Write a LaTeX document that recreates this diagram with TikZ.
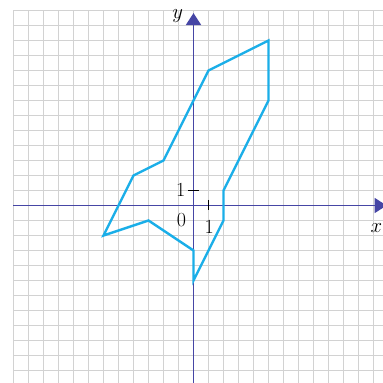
\documentclass[tikz,border=0pt]{standalone}
\usetikzlibrary{arrows.meta}
\definecolor{gridgray}{HTML}{D2D2D2}
\definecolor{axisblue}{HTML}{4646A5}
\definecolor{polycyan}{HTML}{1AAEE8}
\begin{document}
\begin{tikzpicture}[x=15pt,y=15pt,
  gridline/.style={draw=gridgray,line width=1.3pt},
  axisline/.style={draw=axisblue,line width=1.9pt,-{Triangle[length=12pt,width=15pt]}},
  tickline/.style={draw=black,line width=1pt},
  shapeline/.style={draw=polycyan,line width=2.4pt,line join=miter},
  lbl/.style={font=\fontsize{20}{22}\selectfont,inner sep=0pt}]
\useasboundingbox (-12.9,-11.833) rectangle (12.567,13.7);
\draw[gridline,step=15pt] (-12,-11.9) grid (12.6,13);
\coordinate (xs) at (-12,0);
\coordinate (xe) at (12.87,0);
\coordinate (ys) at (0,-11.9);
\coordinate (ye) at (0,12.83);
\draw[axisline] (xs) -- (xe);
\draw[axisline] (ys) -- (ye);
\coordinate (t1a) at (-0.37,1);
\coordinate (t1b) at (0.37,1);
\coordinate (t2a) at (1,0.37);
\coordinate (t2b) at (1,-0.3);
\draw[tickline] (t1a) -- (t1b);
\draw[tickline] (t2a) -- (t2b);
\node[lbl] (ly1) at (-0.85,1.05) {1};
\node[lbl] (l0) at (-0.8,-0.97) {0};
\node[lbl] (lx1) at (1.05,-1.4) {1};
\node[lbl] (ylab) at (-1.05,12.6) {$y$};
\node[lbl] (xlab) at (12.2,-1.5) {$x$};
\coordinate (p1) at (5,11);
\coordinate (p2) at (5,7);
\coordinate (p3) at (2,1);
\coordinate (p4) at (2,-1);
\coordinate (p5) at (0,-5);
\coordinate (p6) at (0,-3);
\coordinate (p7) at (-3,-1);
\coordinate (p8) at (-6,-2);
\coordinate (p9) at (-4,2);
\coordinate (p10) at (-2,3);
\coordinate (p11) at (1,9);
\draw[shapeline] (p1) -- (p2) -- (p3) -- (p4) -- (p5) -- (p6) -- (p7) -- (p8) -- (p9) -- (p10) -- (p11) -- cycle;
\end{tikzpicture}
\end{document}
